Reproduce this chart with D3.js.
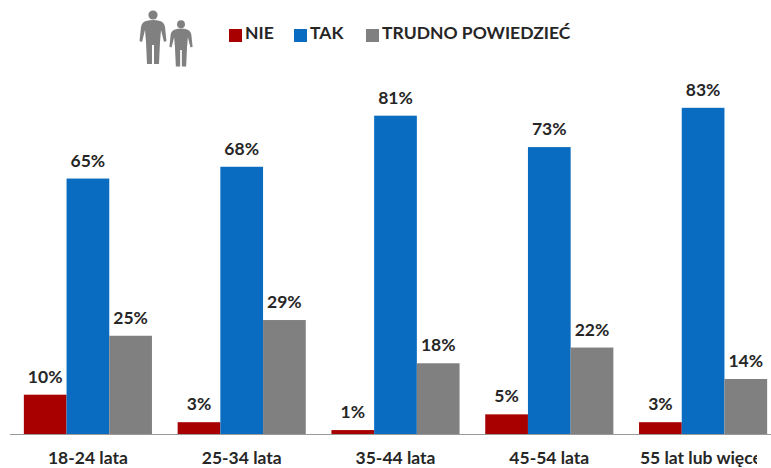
<!DOCTYPE html>
<html lang="en">
<head>
<meta charset="utf-8">
<title>NIE / TAK / TRUDNO POWIEDZIEĆ</title>
<script src="https://cdn.jsdelivr.net/npm/d3@7"></script>
<style>
html, body { margin: 0; padding: 0; background: #fff; }
svg { display: block; }
text { font-family: Lato, sans-serif; font-weight: 700; fill: #262626; }
.value { font-size: 17.5px; text-anchor: middle; }
.tick text { font-size: 17.5px; font-family: Lato, sans-serif; fill: #262626; }
.legend_label { font-size: 17.5px; }
</style>
</head>
<body>
<script>
var categories = ["18-24 lata", "25-34 lata", "35-44 lata", "45-54 lata", "55 lat lub więcej"];
var seriesNames = ["NIE", "TAK", "TRUDNO POWIEDZIEĆ"];
var nieValues = [10, 3, 1, 5, 3];
var takValues = [65, 68, 81, 73, 83];
var trudnoValues = [25, 29, 18, 22, 14];
var seriesValues = [nieValues, takValues, trudnoValues];
var seriesColors = ["#a80000", "#0a6cc0", "#808080"];

var w = 771, h = 468, baseline = 434;

var svg = d3.select("body").append("svg")
	.attr("width", w)
	.attr("height", h);

var x0 = d3.scaleBand()
	.domain(categories)
	.range([11, 780])
	.paddingInner(0.167)
	.paddingOuter(0.0835);

var x1 = d3.scaleBand()
	.domain(seriesNames)
	.range([0, x0.bandwidth()]);

var y = d3.scaleLinear()
	.domain([0, 100])
	.range([baseline, baseline - 393]);

// bars, one group per series
seriesNames.forEach(function (name, s) {
	svg.append("g")
		.attr("fill", seriesColors[s])
		.selectAll("rect")
		.data(seriesValues[s])
		.enter()
		.append("rect")
		.attr("x", function (d, i) { return x0(categories[i]) + x1(name); })
		.attr("y", function (d) { return y(d); })
		.attr("width", x1.bandwidth())
		.attr("height", function (d) { return baseline - y(d); });

	svg.append("g")
		.selectAll("text")
		.data(seriesValues[s])
		.enter()
		.append("text")
		.attr("class", "value")
		.attr("x", function (d, i) { return x0(categories[i]) + x1(name) + x1.bandwidth() / 2; })
		.attr("y", function (d) { return y(d) - 12; })
		.text(function (d) { return d + "%"; });
});

// the last label is cut off in the original, clip rect is in the axis group's coordinates
svg.append("clipPath")
	.attr("id", "labelClip")
	.append("rect")
	.attr("x", 0)
	.attr("y", 0)
	.attr("width", 757)
	.attr("height", h - baseline);

var xAxis = svg.append("g")
	.attr("transform", "translate(0," + baseline + ")")
	.attr("clip-path", "url(#labelClip)")
	.call(d3.axisBottom(x0).tickSize(0).tickPadding(18));
xAxis.select(".domain").remove();
xAxis.selectAll(".tick text").attr("font-size", null).attr("font-family", null);

svg.append("line")
	.attr("x1", 10)
	.attr("x2", w)
	.attr("y1", baseline + 0.5)
	.attr("y2", baseline + 0.5)
	.attr("stroke", "#9a9a9a");

// legend
var legendX = [229, 294, 366];
var legend = svg.selectAll(".legend")
	.data(seriesNames)
	.enter()
	.append("g")
	.attr("transform", function (d, i) { return "translate(" + legendX[i] + ",29)"; });

legend.append("rect")
	.attr("width", 13)
	.attr("height", 13)
	.attr("fill", function (d, i) { return seriesColors[i]; });

legend.append("text")
	.attr("class", "legend_label")
	.attr("x", 16)
	.attr("y", 10)
	.text(function (d) { return d; });

// people icon
function person(g, cx, top, s) {
	var p = g.append("g")
		.attr("transform", "translate(" + cx + "," + top + ") scale(" + s + ")")
		.attr("fill", "#808080");
	p.append("circle").attr("cx", 0).attr("cy", 5).attr("r", 4.6);
	p.append("path")
		.attr("d", "M-7 11 Q0 9 7 11 Q11 12 12 17 L13.5 31 L11 32 L8 20 L7 32 L6 54 L1 54 L1 35 L-1 35 L-1 54 L-6 54 L-7 32 L-8 20 L-11 32 L-13.5 31 L-12 17 Q-11 12 -7 11 Z");
}
var icon = svg.append("g");
person(icon, 153, 10, 1);
person(icon, 181, 20, 0.86);
</script>
</body>
</html>
